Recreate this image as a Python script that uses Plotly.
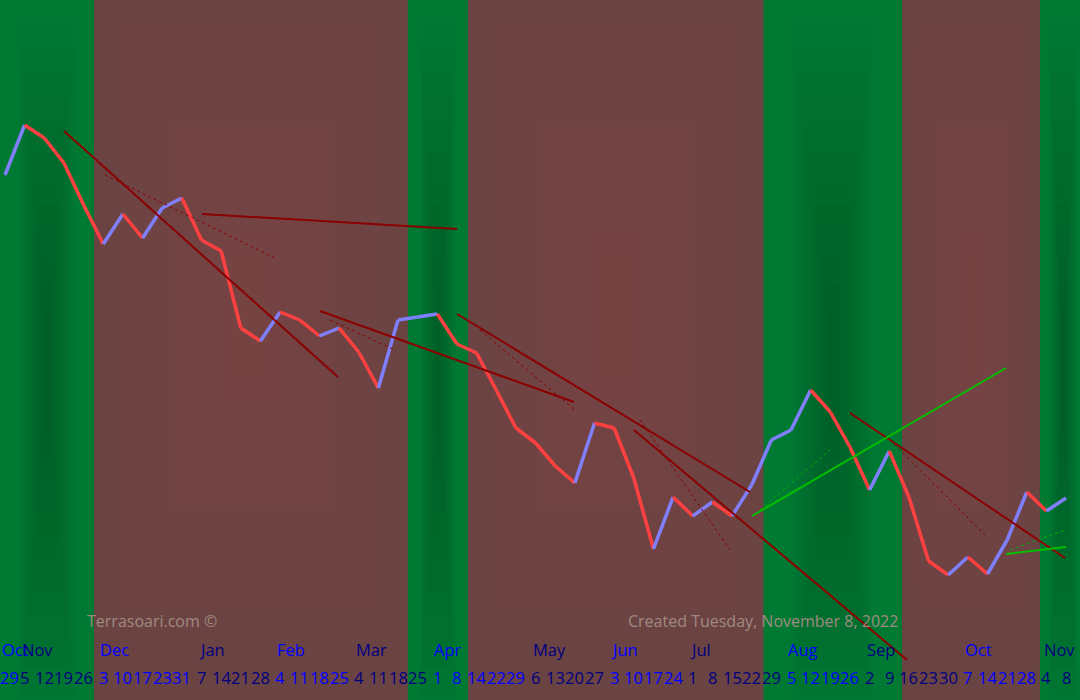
import plotly.graph_objects as go

W = 19.65
def ix(px): return (px - 5) / W

days = [29, 5,12,19,26, 3,10,17,23,31, 7,14,21,28, 4,11,18,25, 4,11,18,25,
        1,8,14,22,29, 6,13,20,27, 3,10,17,24, 1,8,15,22,29, 5,12,19,26,
        2,9,16,23,30, 7,14,21,28, 4,8]
months = ["Oct","Nov","Dec","Jan","Feb","Mar","Apr","May","Jun","Jul","Aug","Sep","Oct","Nov"]
month_start = [0,1,5,10,14,18,22,27,31,35,40,44,49,53]
month_id = []
for i in range(len(days)):
    m = max(k for k, s in enumerate(month_start) if s <= i)
    month_id.append(m)

py = [175,125,138,163,205,244,214,238,208,198,240,251,328,341,312,320,336,328,352,388,
      320,317,314,344,353,390,428,443,466,483,423,428,478,549,497,516,502,516,485,440,
      430,390,412,447,490,451,497,561,575,557,574,540,492,511,498]
vals = [700 - p for p in py]

band_edges = [-0.3, 4.53, 20.5, 23.56, 38.6, 45.65, 52.67, 55]
band_kind = ["g","b","g","b","g","b","g"]

red_lines = [((64,131),(338,377)),((202,214),(457,229)),((320,311),(574,402)),
             ((457,314),(750,492)),((634,430),(907,660)),((850,413),(1065,558))]
green_lines = [((752,516),(1006,368)),((1006,554),(1066,547))]
red_dots = [((105,175),(275,258)),((330,320),(395,350)),((480,330),(575,410)),
            ((640,420),(730,550)),((890,440),(985,535))]
green_dots = [((760,510),(830,450)),((1010,550),(1065,530))]

fig = go.Figure()
shapes = []
N = 12
for k in range(len(band_kind)):
    x0, x1 = band_edges[k], band_edges[k+1]
    c = (x0 + x1) / 2; w = (x1 - x0)
    if band_kind[k] == "g":
        shapes.append(dict(type="rect", xref="x", yref="paper", x0=x0, x1=x1, y0=0, y1=1,
                           fillcolor="#007a33", line_width=0, layer="below"))
        for j in range(N):
            fx = 0.6 * (1 - j / N); fy = 0.45 * (1 - j / N) + 0.05
            shapes.append(dict(type="rect", xref="x", yref="paper", x0=c - w*fx/2, x1=c + w*fx/2,
                               y0=0.47 - fy, y1=0.47 + fy, fillcolor="rgba(0,50,20,0.035)",
                               line_width=0, layer="below"))
    else:
        shapes.append(dict(type="rect", xref="x", yref="paper", x0=x0, x1=x1, y0=0, y1=1,
                           fillcolor="#6a4343", line_width=0, layer="below"))
        for j in range(N):
            fx = 0.95 * (1 - j / N) + 0.05; fy = 0.45 * (1 - j / N) + 0.05
            shapes.append(dict(type="rect", xref="x", yref="paper", x0=c - w*fx/2, x1=c + w*fx/2,
                               y0=0.55 - fy, y1=0.55 + fy, fillcolor="rgba(150,95,95,0.03)",
                               line_width=0, layer="below"))

def seg(pts, color, width, dash="solid"):
    (a, b), (c, d) = pts
    fig.add_trace(go.Scatter(x=[ix(a), ix(c)], y=[700-b, 700-d], mode="lines",
                             line=dict(color=color, width=width, dash=dash),
                             hoverinfo="skip", showlegend=False))

for i in range(len(vals) - 1):
    col = "#8080ff" if vals[i+1] > vals[i] else "#ff4040"
    fig.add_trace(go.Scatter(x=[i, i+1], y=[vals[i], vals[i+1]], mode="lines",
                             line=dict(color=col, width=3.5), showlegend=False, hoverinfo="skip"))
for p in red_dots: seg(p, "#8b0000", 1, "dot")
for p in green_dots: seg(p, "#00b000", 1, "dot")
for p in red_lines: seg(p, "#8b0000", 2)
for p in green_lines: seg(p, "#00c000", 2)

ann = []
for i, d in enumerate(days):
    col = "#0000ff" if month_id[i] % 2 == 0 else "#000080"
    ann.append(dict(x=i + (0.25 if i == 0 else 0), y=23, text=str(d), showarrow=False,
                    xanchor="center", yanchor="middle",
                    font=dict(family="Open Sans", size=16.5, color=col)))
for m, s in zip(range(len(months)), month_start):
    col = "#0000ff" if m % 2 == 0 else "#000080"
    ann.append(dict(x=s - 0.25, y=51, text=months[m], showarrow=False, xanchor="left", yanchor="middle",
                    font=dict(family="Open Sans", size=16.5, color=col)))
ann.append(dict(x=ix(85), y=79, text="Terrasoari.com ©", showarrow=False, xanchor="left",
                font=dict(family="Open Sans", size=16, color="#a08a80")))
ann.append(dict(x=ix(626), y=79, text="Created Tuesday, November 8, 2022", showarrow=False, xanchor="left",
                font=dict(family="Open Sans", size=16, color="#a08a80")))

fig.update_layout(width=1080, height=700, margin=dict(l=0, r=0, t=0, b=0),
                  paper_bgcolor="#6a4343", plot_bgcolor="#6a4343",
                  shapes=shapes, annotations=ann,
                  xaxis=dict(range=[ix(0), ix(1080)], visible=False, fixedrange=True),
                  yaxis=dict(range=[0, 700], visible=False, fixedrange=True))
fig.write_html("out.html", config={"displayModeBar": False},
               post_script="document.body.style.margin='0';document.body.style.overflow='hidden';")
